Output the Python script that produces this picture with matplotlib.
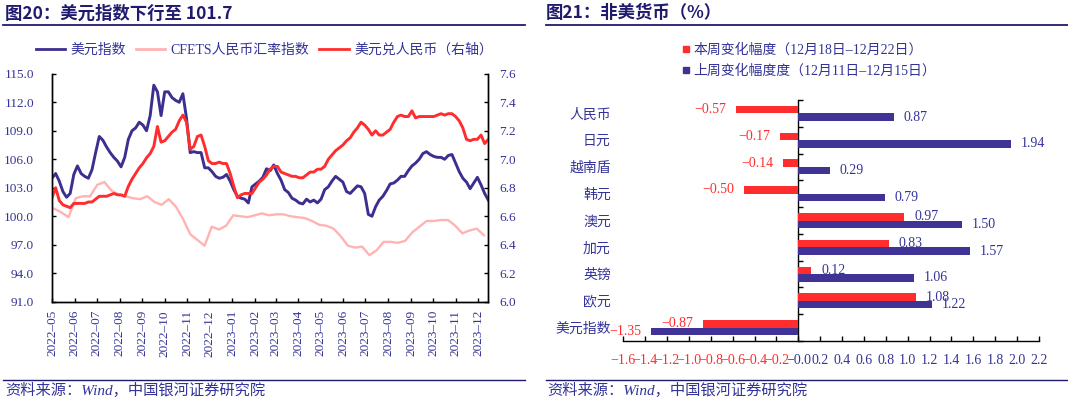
import matplotlib
matplotlib.use('Agg')
import matplotlib.pyplot as plt
import matplotlib.dates as mdates
from matplotlib.lines import Line2D
import numpy as np
import pandas as pd

dxy_dates = pd.date_range('2022-05-01', '2023-12-15', periods=121)
dxy = [104.0, 104.5, 103.7, 102.6, 102.0, 102.4, 104.4, 105.3, 104.5, 104.2,
       104.0, 104.9, 106.7, 108.4, 108.0, 107.3, 106.7, 106.2, 105.8, 105.2,
       106.2, 108.1, 109.0, 109.3, 109.9, 109.6, 109.0, 110.6, 113.8, 113.1,
       110.6, 113.1, 113.1, 112.5, 112.2, 112.0, 112.9, 110.3, 106.7, 106.8,
       106.7, 106.7, 105.1, 105.1, 104.7, 104.2, 104.0, 104.1, 104.4, 103.7,
       102.8, 102.1, 101.9, 101.8, 101.4, 103.1, 103.4, 103.7, 104.1, 105.0,
       104.8, 105.4, 104.5, 103.8, 102.8, 102.5, 101.9, 101.7, 101.4, 101.3,
       101.8, 101.5, 101.7, 101.4, 101.8, 102.8, 103.1, 103.7, 104.2, 103.9,
       103.6, 102.6, 102.4, 102.8, 103.2, 103.1, 102.4, 100.2, 100.0, 101.0,
       101.7, 102.1, 102.7, 103.4, 103.5, 103.8, 104.2, 104.2, 104.8, 105.3,
       105.6, 106.0, 106.6, 106.8, 106.5, 106.3, 106.2, 106.2, 106.0, 106.4,
       106.5, 105.6, 104.7, 104.0, 103.6, 102.9, 103.5, 104.1, 103.3, 102.4,
       101.7]
usdcny = [6.73, 6.80, 6.71, 6.68, 6.67, 6.66, 6.69, 6.69, 6.69, 6.69,
          6.70, 6.70, 6.72, 6.74, 6.74, 6.74, 6.75, 6.76, 6.75, 6.75,
          6.74, 6.81, 6.86, 6.90, 6.94, 6.97, 7.01, 7.04, 7.09, 7.23,
          7.12, 7.13, 7.16, 7.19, 7.21, 7.27, 7.31, 7.26, 7.07, 7.09,
          7.16, 7.17, 7.09, 6.99, 6.97, 6.97, 6.98, 6.97, 6.97, 6.90,
          6.81, 6.73, 6.75, 6.76, 6.76, 6.76, 6.80, 6.84, 6.86, 6.89,
          6.93, 6.95, 6.95, 6.91, 6.90, 6.89, 6.88, 6.88, 6.87, 6.87,
          6.89, 6.91, 6.91, 6.93, 6.93, 6.95, 7.00, 7.03, 7.06, 7.08,
          7.10, 7.13, 7.15, 7.19, 7.22, 7.26, 7.24, 7.21, 7.17, 7.20,
          7.17, 7.17, 7.19, 7.21, 7.26, 7.30, 7.31, 7.30, 7.30, 7.34,
          7.29, 7.30, 7.30, 7.30, 7.30, 7.30, 7.31, 7.32, 7.31, 7.32,
          7.32, 7.30, 7.27, 7.22, 7.14, 7.13, 7.14, 7.14, 7.17, 7.11,
          7.14]
cfets_dates = pd.date_range('2022-05-04', '2023-12-09', periods=61)
cfets = [100.8, 100.4, 99.9, 101.9, 102.1, 102.1, 103.3, 103.6, 102.7, 102.3,
         102.1, 101.9, 101.8, 102.1, 101.5, 101.2, 101.8, 101.0, 99.7, 98.1,
         97.5, 96.9, 98.9, 98.6, 99.0, 100.1, 100.0, 99.9, 100.1, 100.3,
         100.1, 100.2, 100.2, 100.0, 99.9, 99.8, 99.5, 99.1, 99.0, 98.7,
         97.9, 96.9, 96.7, 96.8, 95.9, 96.4, 97.3, 97.3, 97.2, 97.4,
         98.3, 98.9, 99.5, 99.5, 99.6, 99.6, 99.0, 98.2, 98.5, 98.7,
         98.0]

# ---- data: right chart ----
currencies = ['人民币', '日元', '越南盾', '韩元', '澳元', '加元', '英镑', '欧元', '美元指数']
this_week = [-0.57, -0.17, -0.14, -0.50, 0.97, 0.83, 0.12, 1.08, -0.87]
last_week = [0.87, 1.94, 0.29, 0.79, 1.50, 1.57, 1.06, 1.22, -1.35]
this_week_label = '本周变化幅度（12月18日–12月22日）'
last_week_label = '上周变化幅度度（12月11日–12月15日）'

plt.rcParams['font.family'] = ['Liberation Serif', 'Noto Sans CJK SC']
plt.rcParams['axes.unicode_minus'] = True

NAVY = '#333399'
TITLE = '#1f1a6e'
RED = '#ff2d2d'
BLUE = '#3b2f8f'
PINK = '#ffb3b3'
BARBLUE = '#3f3496'

W, H = 1068, 405
fig = plt.figure(figsize=(W / 100, H / 100), dpi=100)


def fx(px):
    return px / W


def fy(py):
    return 1 - py / H


# ================= left chart =================
ax = fig.add_axes([fx(52), fy(301.7), (488.3 - 52) / W, (301.7 - 73.8) / H])
ax2 = ax.twinx()

ax.plot(cfets_dates, cfets, color=PINK, lw=1.7, zorder=2)
ax.plot(dxy_dates, dxy, color=BLUE, lw=2.1, zorder=3)
ax2.plot(dxy_dates, usdcny, color=RED, lw=2.1)

ax.set_xlim(pd.Timestamp('2022-05-01'), pd.Timestamp('2023-12-15'))
ax.set_ylim(91, 115)
ax.set_yticks(np.arange(91, 115.1, 3))
ax.yaxis.set_major_formatter(plt.FormatStrFormatter('%.1f'))
ax2.set_ylim(6.0, 7.6)
ax2.set_yticks(np.arange(6.0, 7.61, 0.2))
ax2.yaxis.set_major_formatter(plt.FormatStrFormatter('%.1f'))

ax.xaxis.set_major_locator(mdates.MonthLocator())
ax.xaxis.set_major_formatter(mdates.DateFormatter('%Y–%m'))
for lab in ax.get_xticklabels():
    lab.set_rotation(90)

for a in (ax, ax2):
    a.spines['top'].set_visible(False)
    for s in ('left', 'right', 'bottom'):
        a.spines[s].set_linewidth(1.0)
        a.spines[s].set_color('black')
ax.tick_params(axis='y', direction='in', length=3, width=1, pad=13,
               labelsize=9.5, labelcolor=NAVY)
ax.tick_params(axis='x', direction='in', length=3, width=1, pad=6,
               labelsize=9.5, labelcolor=NAVY)
ax2.tick_params(axis='y', direction='in', length=3, width=1, pad=8,
                labelsize=9.5, labelcolor=NAVY)

left_handles = [Line2D([], [], color=BLUE, lw=2),
                Line2D([], [], color=PINK, lw=2),
                Line2D([], [], color=RED, lw=2)]
ax.legend(left_handles, ['美元指数', 'CFETS人民币汇率指数', '美元兑人民币（右轴）'],
          loc='center', bbox_to_anchor=(fx(264.5), fy(49.7)),
          bbox_transform=fig.transFigure, ncol=3, frameon=False,
          fontsize=10, handlelength=2.1, handletextpad=0.4,
          columnspacing=0.7, borderpad=0, labelcolor=NAVY)

# ================= right chart =================
axr = fig.add_axes([fx(623.3), fy(341), (1039 - 623.3) / W, (341 - 100) / H])
pos = np.arange(len(currencies))
bh = 0.28
axr.barh(pos - bh / 2, this_week, height=bh, color=RED, zorder=2)
axr.barh(pos + bh / 2, last_week, height=bh, color=BARBLUE, zorder=3)

for y, v in zip(pos - bh / 2, this_week):
    txt = f'{v:.2f}'.replace('-', '\u2212')
    axr.annotate(txt, xy=(v, y), xytext=(7 if v > 0 else -7, 0),
                 textcoords='offset points', ha='left' if v > 0 else 'right',
                 va='center', fontsize=10, color=NAVY if v > 0 else RED,
                 zorder=2.5)
for y, v in zip(pos + bh / 2, last_week):
    txt = f'{v:.2f}'.replace('-', '\u2212')
    axr.annotate(txt, xy=(v, y), xytext=(7 if v > 0 else -7, 0),
                 textcoords='offset points', ha='left' if v > 0 else 'right',
                 va='center', fontsize=10, color=NAVY if v > 0 else RED,
                 zorder=4)

axr.set_xlim(-1.6, 2.2)
axr.set_ylim(len(currencies) - 0.5, -0.5)
xt = np.round(np.arange(-1.6, 2.21, 0.2), 1)
axr.set_xticks(xt)
axr.set_xticklabels([f'{v:.1f}'.replace('-', '\u2212') for v in xt])
for lab, v in zip(axr.get_xticklabels(), xt):
    lab.set_color(RED if v < 0 else NAVY)
axr.tick_params(axis='x', direction='in', length=3.5, width=1, pad=9,
                labelsize=10)
axr.set_yticks(pos)
axr.set_yticklabels(currencies)
axr.tick_params(axis='y', length=0, pad=9, labelsize=10, labelcolor=NAVY)
for s in ('left', 'right', 'top'):
    axr.spines[s].set_visible(False)
axr.spines['bottom'].set_linewidth(1.0)

# zero line with category separators
sec = axr.secondary_yaxis(0, transform=axr.transData)
sec.set_yticks(np.arange(len(currencies) + 1) - 0.5)
sec.set_yticklabels([])
sec.tick_params(direction='in', length=3.5, width=1, color='black')
sec.spines['left'].set_linewidth(1.0)
sec.spines['left'].set_color('black')

right_handles = [Line2D([], [], ls='none', marker='s', ms=4.5, color=RED),
                 Line2D([], [], ls='none', marker='s', ms=4.5, color=BARBLUE)]
axr.legend(right_handles, [this_week_label, last_week_label],
           loc='center left', bbox_to_anchor=(fx(682.3), fy(60.6)),
           bbox_transform=fig.transFigure, frameon=False, fontsize=10,
           handlelength=0.6, handletextpad=0.2, labelspacing=0.55,
           borderpad=0, borderaxespad=0, labelcolor=NAVY)

# ================= titles / sources =================
fig.text(fx(5), fy(13.5), '图20：美元指数下行至 101.7', fontsize=12.5,
         fontweight='bold', color=TITLE, va='center', family='Noto Sans CJK SC')
fig.text(fx(546), fy(13.5), '图21：非美货币（%）', fontsize=12.5,
         fontweight='bold', color=TITLE, va='center', family='Noto Sans CJK SC')
for x0, x1 in ((3, 525), (546, 1068)):
    fig.add_artist(Line2D([fx(x0), fx(x1)], [fy(25), fy(25)],
                          transform=fig.transFigure, color=TITLE, lw=1.3))
    fig.add_artist(Line2D([fx(x0), fx(x1)], [fy(379.6), fy(379.6)],
                          transform=fig.transFigure, color=TITLE, lw=1.0))
for x0 in (5, 547):
    fig.text(fx(x0), fy(390), '资料来源：Wind，中国银河证券研究院', fontsize=11,
             style='italic', color=NAVY, va='center')

fig.savefig('out.png', dpi=100)
